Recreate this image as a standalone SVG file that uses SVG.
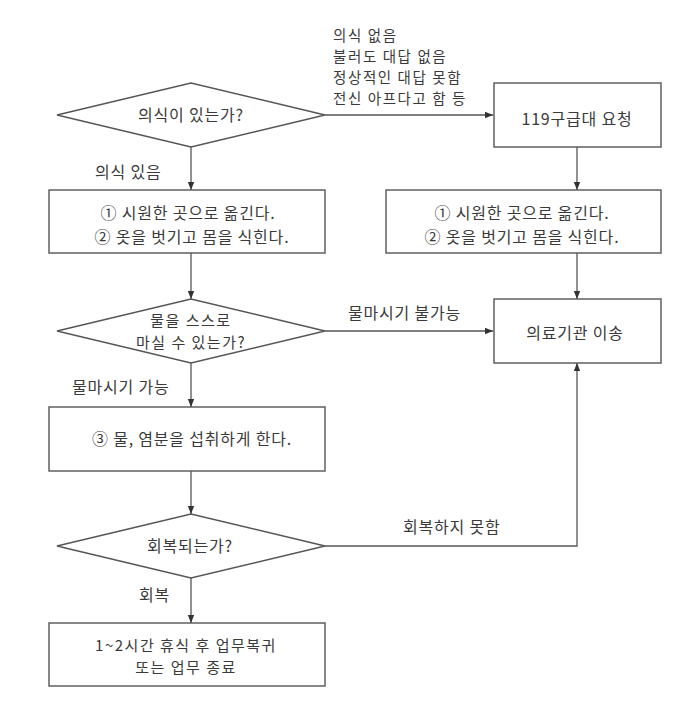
<svg xmlns="http://www.w3.org/2000/svg" width="695" height="709" viewBox="0 0 695 709">
<defs>
<marker id="arr" markerUnits="userSpaceOnUse" markerWidth="8" markerHeight="8" viewBox="0 0 8 8" refX="8" refY="4" orient="auto">
<path d="M0,0.8 L8,4 L0,7.2 Z" fill="#333"/>
</marker>
<style>
.shape{fill:#fff;stroke:#555;stroke-width:1.4}
.t{font-family:"Noto Sans CJK KR","Noto Sans",sans-serif;font-size:16px;fill:#3a3a3a;letter-spacing:0.8px}
.s{font-size:14.5px;letter-spacing:1.6px}
.m{font-size:15px;letter-spacing:1.5px}
.c{text-anchor:middle}
.ln{fill:none;stroke:#555;stroke-width:1.3}
</style>
</defs>
<rect width="695" height="709" fill="#fff"/>
<g id="connectors">
<line class="ln" x1="191" y1="147" x2="191" y2="190" marker-end="url(#arr)"/>
<line class="ln" x1="325" y1="115" x2="493" y2="115" marker-end="url(#arr)"/>
<line class="ln" x1="577" y1="147" x2="577" y2="190" marker-end="url(#arr)"/>
<line class="ln" x1="191" y1="253" x2="191" y2="299" marker-end="url(#arr)"/>
<line class="ln" x1="577" y1="253" x2="577" y2="299" marker-end="url(#arr)"/>
<line class="ln" x1="325" y1="331" x2="493" y2="331" marker-end="url(#arr)"/>
<line class="ln" x1="191" y1="363" x2="191" y2="407" marker-end="url(#arr)"/>
<line class="ln" x1="191" y1="471" x2="191" y2="514" marker-end="url(#arr)"/>
<polyline class="ln" points="325,546 577,546 577,363" marker-end="url(#arr)"/>
<line class="ln" x1="191" y1="578" x2="191" y2="623" marker-end="url(#arr)"/>
<text class="t s" x="333" y="41">의식 없음</text>
<text class="t s" x="333" y="62">불러도 대답 없음</text>
<text class="t s" x="333" y="83">정상적인 대답 못함</text>
<text class="t s" x="333" y="104">전신 아프다고 함 등</text>
<text class="t" x="95" y="178">의식 있음</text>
<text class="t" x="348" y="319">물마시기 불가능</text>
<text class="t" x="72" y="392.5">물마시기 가능</text>
<text class="t" x="403" y="533">회복하지 못함</text>
<text class="t" x="139" y="601">회복</text>
</g>
<g id="d1">
<polygon class="shape" points="57,115 191,83 325,115 191,147"/>
<text class="t c" x="191" y="121">의식이 있는가?</text>
</g>
<g id="b1">
<rect class="shape" x="49" y="190" width="276" height="63"/>
<text class="t c" x="188" y="219">① 시원한 곳으로 옮긴다.</text>
<text class="t c" x="192" y="243">② 옷을 벗기고 몸을 식힌다.</text>
</g>
<g id="b119">
<rect class="shape" x="494" y="83" width="167" height="64"/>
<text class="t c" x="577" y="125">119구급대 요청</text>
</g>
<g id="b2">
<rect class="shape" x="386" y="190" width="275" height="63"/>
<text class="t c" x="522" y="219">① 시원한 곳으로 옮긴다.</text>
<text class="t c" x="522" y="243">② 옷을 벗기고 몸을 식힌다.</text>
</g>
<g id="d2">
<polygon class="shape" points="57,331 191,299 325,331 191,363"/>
<text class="t m c" x="191" y="326">물을 스스로</text>
<text class="t m c" x="191" y="348">마실 수 있는가?</text>
</g>
<g id="hosp">
<rect class="shape" x="494" y="299" width="167" height="64"/>
<text class="t c" x="575" y="339">의료기관 이송</text>
</g>
<g id="b3">
<rect class="shape" x="49" y="407" width="276" height="64"/>
<text class="t c" x="192" y="445">③ 물, 염분을 섭취하게 한다.</text>
</g>
<g id="d3">
<polygon class="shape" points="57,546 191,514 325,546 191,578"/>
<text class="t c" x="190" y="551.5">회복되는가?</text>
</g>
<g id="b4">
<rect class="shape" x="49" y="623" width="276" height="63"/>
<text class="t m c" x="186" y="650.5">1~2시간 휴식 후 업무복귀</text>
<text class="t m c" x="186" y="672.5">또는 업무 종료</text>
</g>
</svg>
